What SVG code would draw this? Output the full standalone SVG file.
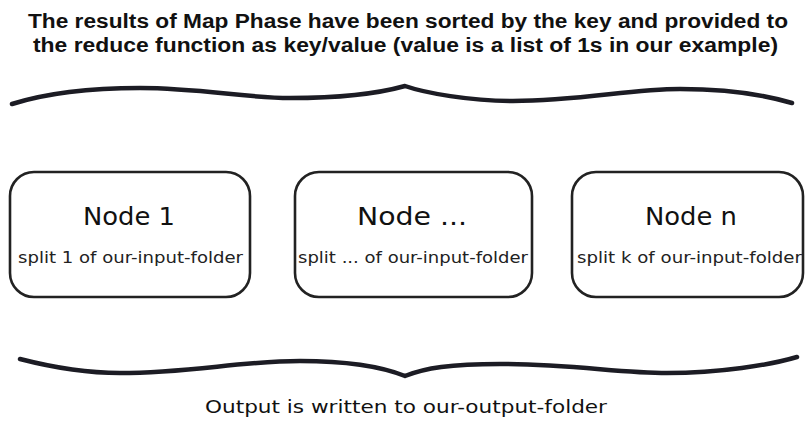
<svg xmlns="http://www.w3.org/2000/svg" width="807" height="421" viewBox="0 0 807 421">
  <style>
    .bg { fill: #ffffff; }
    .brace { fill: none; stroke: #1c1c24; stroke-width: 4.5; stroke-linecap: round; stroke-linejoin: round; }
    .box { fill: #ffffff; stroke: #222222; stroke-width: 2.6; }
    .title { font-family: "Liberation Sans", "DejaVu Sans", sans-serif; font-size: 20px; font-weight: bold; fill: #111111; }
    .ntitle { font-family: "DejaVu Sans", "Liberation Sans", sans-serif; font-size: 25px; fill: #111111; }
    .nsub { font-family: "DejaVu Sans", "Liberation Sans", sans-serif; font-size: 15px; fill: #222222; }
    .foot { font-family: "DejaVu Sans", "Liberation Sans", sans-serif; font-size: 18px; fill: #111111; }
  </style>
  <rect class="bg" x="0" y="0" width="807" height="421"/>

  <g id="header">
    <text class="title" x="28" y="28" textLength="760" lengthAdjust="spacingAndGlyphs">The results of Map Phase have been sorted by the key and provided to</text>
    <text class="title" x="33" y="52" textLength="745" lengthAdjust="spacingAndGlyphs">the reduce function as key/value (value is a list of 1s in our example)</text>
  </g>

  <g id="braces">
    <path class="brace" d="M12,104 C50,92 95,88 140,88 C200,88 245,98 290,98 C340,98 380,93 405,86 C425,93 470,101 513,101 C580,101 630,89 680,89 C730,89 765,95 792,103"/>
    <path class="brace" d="M20,359 C55,368 85,373 120,373 C190,373 240,361 300,361 C350,361 385,368 405,376 C425,368 450,364 500,364 C570,364 620,373 667,373 C720,373 770,365 797,357"/>
  </g>

  <g id="node1">
    <rect class="box" x="10" y="172" width="240" height="125" rx="24" ry="24"/>
    <text class="ntitle" x="83" y="225" textLength="92" lengthAdjust="spacingAndGlyphs">Node 1</text>
    <text class="nsub" x="18" y="263" textLength="225" lengthAdjust="spacingAndGlyphs">split 1 of our-input-folder</text>
  </g>

  <g id="node2">
    <rect class="box" x="295" y="172" width="237" height="125" rx="24" ry="24"/>
    <text class="ntitle" x="357" y="225" textLength="110" lengthAdjust="spacingAndGlyphs">Node ...</text>
    <text class="nsub" x="298" y="263" textLength="230" lengthAdjust="spacingAndGlyphs">split ... of our-input-folder</text>
  </g>

  <g id="node3">
    <rect class="box" x="572" y="172" width="231" height="125" rx="24" ry="24"/>
    <text class="ntitle" x="645" y="225" textLength="92" lengthAdjust="spacingAndGlyphs">Node n</text>
    <text class="nsub" x="577" y="263" textLength="225" lengthAdjust="spacingAndGlyphs">split k of our-input-folder</text>
  </g>

  <g id="footer">
    <text class="foot" x="205" y="413" textLength="402" lengthAdjust="spacingAndGlyphs">Output is written to our-output-folder</text>
  </g>
</svg>
